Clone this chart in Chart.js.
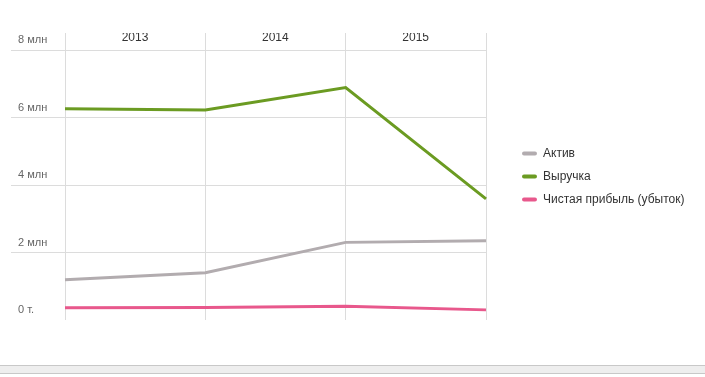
<!DOCTYPE html>
<html>
<head>
<meta charset="utf-8">
<script src="https://cdn.jsdelivr.net/npm/chart.js@4/dist/chart.umd.min.js"></script>
<style>
  html, body { margin: 0; padding: 0; background: #fff; }
  #wrap { position: relative; width: 705px; height: 377px; overflow: hidden; }
  #bar { position: absolute; left: 0; top: 365px; width: 705px; height: 7px;
         background: #eeeeee; border-top: 1px solid #c8c8c8; border-bottom: 1px solid #c8c8c8; }
</style>
</head>
<body>
<div id="wrap">
  <canvas id="chart" width="705" height="377"></canvas>
  <div id="bar"></div>
</div>
<script>
// Year-by-year company figures: assets, revenue, net profit (in rubles).
const periods = ["2013", "2014", "2015", ""];
const yTicks = [0, 2e6, 4e6, 6e6, 8e6];

const aktiv = [1.19e6, 1.40e6, 2.30e6, 2.35e6];
const vyruchka = [6.26e6, 6.22e6, 6.89e6, 3.59e6];
const pribyl = [0.36e6, 0.37e6, 0.41e6, 0.30e6];

const GRID = "#dcdcdc";
const FONT = "Arial, 'Liberation Sans', sans-serif";

function series(label, data, color) {
  return {
    label, data,
    borderColor: color, backgroundColor: color,
    borderWidth: 3, pointRadius: 0, pointHoverRadius: 0,
    tension: 0, borderCapStyle: "butt", borderJoinStyle: "miter",
  };
}

const fmtTick = (v) => (v === 0 ? "0 т." : `${v / 1e6} млн`);

// Legend sits in a fixed-width column on the right; items are indented a bit.
const legendBox = {
  id: "legendBox",
  beforeLayout(chart) {
    const lg = chart.legend;
    if (!lg || lg._fixed) return;
    const fit = lg.fit.bind(lg);
    lg.fit = function () { fit(); this.width = 219; };
    lg._fixed = true;
  },
  afterLayout(chart) {
    if (chart.legend) chart.legend.left += 25;
  },
};

new Chart(document.getElementById("chart"), {
  type: "line",
  data: {
    labels: periods,
    datasets: [
      series("Актив", aktiv, "#b2acaf"),
      series("Выручка", vyruchka, "#6b9b22"),
      series("Чистая прибыль (убыток)", pribyl, "#e8588c"),
    ],
  },
  plugins: [legendBox],
  options: {
    responsive: false,
    animation: false,
    events: [],
    layout: { padding: { top: 33, left: 18, bottom: 57, right: 0 } },
    plugins: {
      tooltip: { enabled: false },
      legend: {
        position: "right",
        align: "center",
        labels: {
          color: "#333",
          font: { family: FONT, size: 12 },
          boxWidth: 15,
          boxHeight: 4,
          padding: 11,
          useBorderRadius: true,
          borderRadius: 2,
          generateLabels: (chart) =>
            chart.data.datasets.map((ds, i) => ({
              text: ds.label,
              fillStyle: ds.borderColor,
              strokeStyle: ds.borderColor,
              lineWidth: 0,
              fontColor: "#333",
              borderRadius: 2,
              datasetIndex: i,
            })),
        },
      },
    },
    scales: {
      x: {
        position: "top",
        offset: false,
        border: { display: false },
        grid: { color: GRID, lineWidth: 1, tickLength: 17 },
        ticks: {
          color: "#333",
          font: { family: FONT, size: 12 },
          labelOffset: 70,
          padding: -12,
          maxRotation: 0,
          autoSkip: false,
        },
        afterFit: (s) => { s.height = 17; },
      },
      y: {
        min: 0,
        max: 8e6,
        border: { display: false },
        afterBuildTicks: (s) => { s.ticks = yTicks.map((v) => ({ value: v })); },
        afterFit: (s) => { s.width = 47; },
        grid: {
          tickLength: 54,
          color: (c) => (c.tick && c.tick.value === 0 ? "rgba(0,0,0,0)" : GRID),
        },
        ticks: {
          color: "#666",
          font: { family: FONT, size: 11 },
          crossAlign: "far",
          labelOffset: -10,
          callback: fmtTick,
        },
      },
    },
  },
});
</script>
</body>
</html>
